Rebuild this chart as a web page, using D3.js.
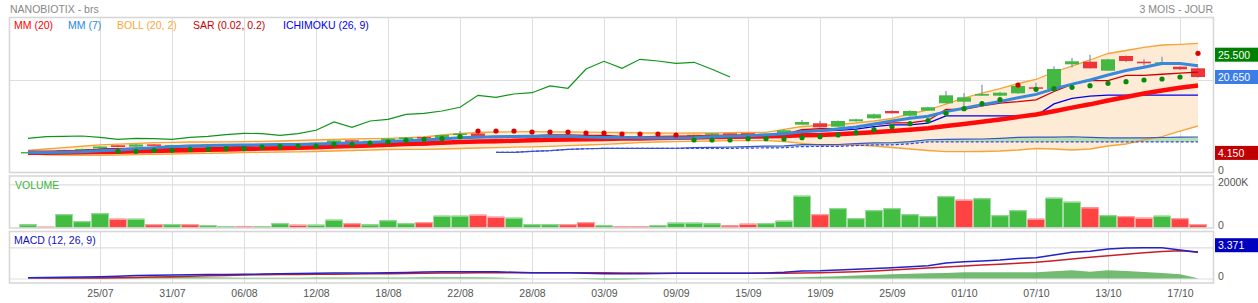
<!DOCTYPE html>
<html><head><meta charset="utf-8">
<script src="https://cdn.jsdelivr.net/npm/d3@7"></script>
<style>
html,body{margin:0;padding:0;background:#fff;}
svg{display:block;font-family:"Liberation Sans",Arial,sans-serif;}
</style></head><body>
<svg id="c" width="1258" height="303"></svg>
<script>
// ---------------- DATA ----------------
const dates = ["21/07","22/07","23/07","24/07","25/07","28/07","29/07","30/07","31/07","01/08","04/08","05/08","06/08","07/08","08/08","11/08","12/08","13/08","14/08","15/08","18/08","19/08","20/08","21/08","22/08","25/08","26/08","27/08","28/08","29/08","01/09","02/09","03/09","04/09","05/09","08/09","09/09","10/09","11/09","12/09","15/09","16/09","17/09","18/09","19/09","22/09","23/09","24/09","25/09","26/09","29/09","30/09","01/10","02/10","03/10","06/10","07/10","08/10","09/10","10/10","13/10","14/10","15/10","16/10","17/10","20/10"];
const open = [4.25,4.35,4.30,4.80,5.10,5.80,5.50,6.00,5.80,5.90, 5.80,5.90,6.00,5.92,6.00,6.25,6.10,6.40,6.90,6.65, 6.80,7.25,7.60,7.30,8.05,8.37,7.70,7.40,7.65,7.75, 7.85,7.55,7.15,7.35,7.28,7.15,7.55,7.75,8.10,8.40, 8.45,8.00,8.26,10.28,10.59,9.85,11.02,11.67,13.26,12.24, 13.33,14.93,15.28,16.59,16.59,17.11,18.41,17.98,23.41,23.98, 22.02,25.22,23.98,23.63,22.89,22.54];
const high = [4.40,4.40,4.85,5.10,5.65,5.95,6.10,6.10,5.95,5.95, 5.98,6.05,6.05,6.08,6.25,6.30,6.40,6.90,6.95,6.85, 7.35,7.60,7.65,8.10,8.90,8.45,7.80,7.75,7.85,7.90, 7.90,7.60,7.40,7.40,7.35,7.60,7.80,8.15,8.50,8.50, 8.50,8.40,9.35,11.30,11.15,11.20,11.60,12.70,13.40,13.40, 14.20,17.60,17.17,18.98,17.40,18.80,19.40,23.00,24.80,25.50, 24.60,25.30,24.50,25.07,23.00,22.70];
const low = [4.15,4.15,4.25,4.75,5.05,5.35,5.45,5.75,5.75,5.75, 5.75,5.85,5.88,5.88,5.98,6.05,6.08,6.35,6.60,6.60, 6.75,7.20,7.20,7.25,8.00,7.80,7.30,7.35,7.60,7.70, 7.50,7.05,7.10,7.20,7.05,7.10,7.50,7.70,8.05,8.30, 7.95,7.95,8.20,10.20,9.60,9.80,10.95,11.60,12.70,12.00, 13.30,14.90,14.20,16.50,16.50,17.00,17.46,17.90,22.70,22.50, 22.00,23.90,23.10,23.60,22.20,20.50];
const close = [4.35,4.24,4.78,5.00,5.54,5.43,5.98,5.80,5.87,5.80, 5.91,5.98,5.91,6.02,6.20,6.13,6.35,6.85,6.67,6.78, 7.28,7.50,7.28,8.04,8.37,7.83,7.33,7.70,7.76,7.83, 7.54,7.11,7.33,7.26,7.11,7.54,7.76,8.11,8.41,8.35, 7.98,8.33,9.07,10.87,9.72,11.09,11.46,12.54,12.76,13.26, 14.07,16.67,16.24,16.96,17.24,18.70,18.20,22.39,24.07,22.54, 24.50,24.13,23.63,23.85,22.33,20.65];
const mm20 = [4.21,4.21,4.24,4.28,4.35,4.41,4.50,4.58,4.66,4.74, 4.83,4.91,5.00,5.09,5.19,5.29,5.39,5.53,5.65,5.78, 5.93,6.09,6.21,6.37,6.51,6.63,6.70,6.79,6.88,6.99, 7.07,7.12,7.20,7.26,7.30,7.37,7.44,7.51,7.59,7.67, 7.71,7.75,7.84,7.98,8.05,8.21,8.42,8.66,8.91,9.18, 9.51,9.98,10.43,10.92,11.42,11.98,12.50,13.22,14.00,14.71, 15.53,16.32,17.05,17.70,18.33,18.81];
const mm7 = [4.22,4.23,4.31,4.42,4.62,4.79,5.05,5.25,5.49,5.63, 5.76,5.82,5.89,5.90,5.96,5.99,6.07,6.21,6.30,6.43, 6.61,6.79,6.96,7.20,7.42,7.58,7.66,7.72,7.76,7.84, 7.77,7.59,7.51,7.50,7.42,7.39,7.38,7.46,7.65,7.79, 7.89,8.07,8.29,8.73,8.96,9.34,9.79,10.44,11.07,11.67, 12.13,13.12,13.86,14.64,15.31,16.16,16.87,18.06,19.11,20.01, 21.09,22.08,22.78,23.59,23.58,23.09];
const bollUp = [4.67,5.00,5.30,5.60,5.90,6.05,6.20,6.37,6.46,6.52, 6.52,6.57,6.59,6.67,6.74,6.85,6.96,7.07,7.17,7.24, 7.33,7.46,7.61,8.04,8.41,8.59,8.70,8.74,8.76,8.74, 8.70,8.65,8.63,8.59,8.52,8.48,8.43,8.48,8.52,8.54, 8.59,8.63,9.28,9.89,10.11,10.33,10.65,11.09,11.63,12.61, 13.48,14.78,16.09,17.17,18.15,19.24,20.11,21.74,23.04,24.35, 25.76,26.41,27.07,27.61,27.76,27.98];
const bollLow = [4.02,3.75,3.65,3.62,3.62,3.70,3.76,3.85,3.91,3.98, 4.07,4.13,4.20,4.28,4.35,4.39,4.46,4.57,4.67,4.78, 4.89,4.93,4.93,5.00,5.11,5.22,5.28,5.39,5.48,5.59, 5.72,5.87,6.02,6.20,6.37,6.52,6.59,6.67,6.74,6.80, 6.80,6.80,6.63,6.24,5.87,5.87,5.87,5.65,5.33,5.00, 4.67,4.41,4.41,4.46,4.57,4.78,5.11,5.00,4.78,5.00, 5.65,6.09,6.96,7.67,8.91,10.00];
const sar = [null,null,null,null,null,4.50,4.50,4.72,4.72,4.93, 4.93,5.07,5.07,5.43,5.50,5.65,5.65,6.02,6.02,6.30, 6.52,6.89,7.11,7.24,7.67,8.91,8.91,8.91,8.70,8.70, 8.70,8.48,8.48,8.26,8.26,8.26,8.04,6.96,6.96,6.96, 7.24,7.24,7.17,7.46,7.67,8.04,8.54,9.20,9.85,10.50, 11.15,12.76,13.76,14.85,15.72,18.91,17.98,18.11,18.41,18.76, 19.28,19.63,20.00,20.22,20.65,25.80];
const tenkan = [4.28,4.28,4.50,4.63,4.90,5.05,5.13,5.13,5.13,5.13, 5.18,5.43,5.58,5.73,5.85,6.03,6.08,6.33,6.35,6.40, 6.62,6.74,6.82,7.08,7.49,7.63,7.75,7.75,7.83,8.05, 8.05,7.98,7.98,7.75,7.48,7.48,7.48,7.60,7.78,7.78, 7.78,7.78,8.20,9.20,9.40,9.50,9.78,10.33,10.68,10.68, 11.20,13.60,13.60,14.39,14.97,15.29,15.70,17.50,19.05,19.85, 19.85,21.00,21.00,21.25,21.48,21.70];
const kijun = [4.28,4.28,4.50,4.63,4.90,5.05,5.13,5.13,5.13,5.13, 5.13,5.13,5.13,5.13,5.20,5.23,5.28,5.53,5.55,5.55, 5.75,5.88,5.90,6.13,6.53,6.53,6.53,6.58,6.83,6.98, 7.13,7.18,7.33,7.33,7.33,7.33,7.38,7.39,7.39,7.44, 7.48,7.49,7.85,8.95,8.95,9.03,9.33,9.88,10.23,10.23, 10.63,12.20,12.20,12.20,12.20,12.20,12.20,14.80,16.00,16.50, 16.70,16.70,16.70,16.70,16.70,16.70];
// senkou spans, starting at bar 26
const senkouStart = 26;
const senkouA = [4.28,4.28,4.50,4.63,4.90,5.05,5.13,5.13,5.13,5.13, 5.16,5.28,5.36,5.43,5.53,5.63,5.68,5.93,5.95,5.98, 6.19,6.31,6.36,6.61,7.01,7.08,7.14,7.17,7.33,7.52, 7.59,7.58,7.66,7.54,7.41,7.41,7.43,7.50,7.59,7.61];
const senkouB = [4.28,4.28,4.50,4.63,4.90,5.05,5.13,5.13,5.13,5.13, 5.13,5.13,5.13,5.13,5.20,5.23,5.28,5.53,5.55,5.55, 5.75,5.88,5.90,6.13,6.53,6.53,6.53,6.53,6.53,6.53, 6.53,6.53,6.53,6.53,6.53,6.53,6.53,6.53,6.53,6.53];
const chikouShift = 26;
const volume = [157,46,631,309,677,415,415,170,170,170, 124,78,62,78,216,138,138,369,216,153, 354,216,262,553,553,599,507,461,170,170, 170,262,124,78,78,124,232,232,201,110, 184,216,323,1475,631,908,447,816,908,631, 539,1461,1290,1369,585,816,415,1382,1198,940, 585,539,461,553,447,170];
const macd = [0.10,0.12,0.15,0.19,0.23,0.30,0.37,0.42,0.45,0.47, 0.50,0.52,0.54,0.57,0.60,0.63,0.67,0.69,0.71,0.72, 0.74,0.78,0.82,0.85,0.87,0.88,0.87,0.80,0.75,0.74, 0.74,0.68,0.60,0.60,0.62,0.64,0.67,0.67,0.68,0.68, 0.67,0.72,0.80,0.95,0.98,1.08,1.18,1.28,1.38,1.50, 1.64,2.00,2.15,2.25,2.37,2.55,2.67,3.00,3.36,3.50, 3.78,3.91,3.95,3.95,3.65,3.37];
const signal = [0.10,0.08,0.06,0.05,0.05,0.09,0.14,0.19,0.23,0.29, 0.35,0.40,0.45,0.48,0.50,0.52,0.54,0.56,0.58,0.60, 0.62,0.64,0.67,0.69,0.71,0.73,0.74,0.75,0.75,0.75, 0.75,0.74,0.74,0.72,0.69,0.68,0.67,0.67,0.67,0.67, 0.67,0.67,0.68,0.70,0.74,0.80,0.87,0.97,1.09,1.22, 1.35,1.48,1.60,1.72,1.84,1.96,2.08,2.28,2.50,2.71, 2.92,3.12,3.31,3.46,3.56,3.40];
const hist = [0.00,0.04,0.09,0.14,0.18,0.21,0.23,0.23,0.22,0.18, 0.15,0.12,0.09,0.09,0.10,0.11,0.13,0.13,0.13,0.12, 0.12,0.14,0.15,0.16,0.16,0.15,0.13,0.05,0.00,-0.01, -0.01,-0.06,-0.14,-0.12,-0.07,-0.04,0.00,0.00,0.01,0.01, 0.00,0.05,0.12,0.15,0.23,0.30,0.38,0.46,0.54,0.60, 0.66,0.72,0.79,0.80,0.80,0.79,0.79,0.92,1.05,0.85, 1.05,0.95,0.82,0.70,0.54,0.03];
const priceMarkers = [25.5, 20.65, 4.15];
const macdMarkers = [3.371];
const title = "NANOBIOTIX - brs";
const period = "3 MOIS - JOUR";
const legendItems = ["MM (20)","MM (7)","BOLL (20, 2)","SAR (0.02, 0.2)","ICHIMOKU (26, 9)"];
const volTicks = [0, 2000];
const macdTicks = [0];
const priceTicks = [0];
const priceGrid = [20];
const macdGrid = [0, 4];

// ---------------- LAYOUT ----------------
const svg = d3.select("#c");
const L = 9.5, R = 1213.5;
const P = {
  main: {top: 17.5, bottom: 172.5},
  vol:  {top: 176,  bottom: 228},
  macd: {top: 231.5, bottom: 283}
};
const n = close.length;
const x = d3.scaleLinear().domain([0, n - 1]).range([28, 1198]);
const yMain = d3.scaleLinear().domain([0, 20]).range([172, 80]);
const yVol = d3.scaleLinear().domain([0, 2000]).range([227.7, 184.3]);
const yMacd = d3.scaleLinear().domain([0, 4]).range([278.5, 247.3]);
const tickIdx = d3.range(n).filter(i => i > 0 && i % 4 === 0);
const FS = "10.5px";
const gridCol = "#dedede";

svg.append("rect").attr("width", 1258).attr("height", 303).attr("fill", "#fff");

const defs = svg.append("defs");
Object.entries(P).forEach(([k, p]) => {
  defs.append("clipPath").attr("id", "clip-" + k).append("rect")
    .attr("x", L).attr("y", p.top).attr("width", R - L).attr("height", p.bottom - p.top);
});

// vertical grid in each panel
Object.entries(P).forEach(([k, p]) => {
  const g = svg.append("g").attr("transform", `translate(0,${p.bottom})`)
    .call(d3.axisBottom(x).tickValues(tickIdx).tickSize(-(p.bottom - p.top)).tickFormat(""));
  g.select(".domain").remove();
  g.selectAll("line").attr("stroke", gridCol).attr("stroke-width", 1);
});
// horizontal grid
function hgrid(scale, vals) {
  const g = svg.append("g").attr("transform", `translate(${L},0)`)
    .call(d3.axisRight(scale).tickValues(vals).tickSize(R - L).tickFormat(""));
  g.select(".domain").remove();
  g.selectAll("line").attr("stroke", gridCol).attr("stroke-width", 1.2);
}
hgrid(yMain, priceGrid);
hgrid(yVol, [2000]);
hgrid(yMacd, macdGrid);

// ---------------- MAIN PANEL ----------------
const gm = svg.append("g").attr("clip-path", "url(#clip-main)");
const idx = d3.range(n);

// Bollinger fill
gm.append("path").datum(idx)
  .attr("d", d3.area().x(i => x(i)).y0(i => yMain(bollLow[i])).y1(i => yMain(bollUp[i])))
  .attr("fill", "#fdebd6");
// Ichimoku cloud
const sIdx = d3.range(senkouA.length);
gm.append("path").datum(sIdx)
  .attr("d", d3.area().x(j => x(j + senkouStart)).y0(j => yMain(senkouB[j])).y1(j => yMain(senkouA[j])))
  .attr("fill", "#a8dea0").attr("opacity", 0.85);
// Bollinger lines
[bollUp, bollLow].forEach(arr => {
  gm.append("path").datum(arr)
    .attr("d", d3.line().x((d, i) => x(i)).y(d => yMain(d)))
    .attr("fill", "none").attr("stroke", "#f5a437").attr("stroke-width", 1.3);
});

// Candles
const cg = gm.append("g");
cg.selectAll("line.wick").data(idx).join("line")
  .attr("x1", i => x(i)).attr("x2", i => x(i))
  .attr("y1", i => yMain(high[i])).attr("y2", i => yMain(low[i]))
  .attr("stroke", "#7e93ae").attr("stroke-width", 1.2);
cg.selectAll("rect.body").data(idx).join("rect")
  .attr("x", i => x(i) - 7).attr("width", 14)
  .attr("y", i => Math.min(yMain(open[i]), yMain(close[i])))
  .attr("height", i => Math.max(1.5, Math.abs(yMain(open[i]) - yMain(close[i]))))
  .attr("fill", i => close[i] >= open[i] ? "#43b943" : "#ee3438");

// Senkou lines
gm.append("path").datum(senkouB)
  .attr("d", d3.line().x((d, j) => x(j + senkouStart)).y(d => yMain(d)))
  .attr("fill", "none").attr("stroke", "#3a3aff").attr("stroke-width", 1.2).attr("stroke-dasharray", "3,2");
gm.append("path").datum(senkouA)
  .attr("d", d3.line().x((d, j) => x(j + senkouStart)).y(d => yMain(d)))
  .attr("fill", "none").attr("stroke", "#3a55c8").attr("stroke-width", 1.2);
// Kijun / Tenkan
gm.append("path").datum(kijun)
  .attr("d", d3.line().x((d, i) => x(i)).y(d => yMain(d)))
  .attr("fill", "none").attr("stroke", "#0000ee").attr("stroke-width", 1.3);
gm.append("path").datum(tenkan)
  .attr("d", d3.line().x((d, i) => x(i)).y(d => yMain(d)))
  .attr("fill", "none").attr("stroke", "#d00000").attr("stroke-width", 1.3);
// Chikou (close shifted back)
gm.append("path").datum(close.slice(chikouShift))
  .attr("d", d3.line().x((d, j) => x(j)).y(d => yMain(d)))
  .attr("fill", "none").attr("stroke", "#10951a").attr("stroke-width", 1.2);
// MM20
gm.append("path").datum(mm20)
  .attr("d", d3.line().x((d, i) => x(i)).y(d => yMain(d)))
  .attr("fill", "none").attr("stroke", "#ff0a0a").attr("stroke-width", 4.5).attr("stroke-linejoin", "round");
// MM7
gm.append("path").datum(mm7)
  .attr("d", d3.line().x((d, i) => x(i)).y(d => yMain(d)))
  .attr("fill", "none").attr("stroke", "#3a88dc").attr("stroke-width", 3).attr("stroke-linejoin", "round");
// SAR
gm.selectAll("circle.sar").data(idx.filter(i => sar[i] != null)).join("circle")
  .attr("cx", i => x(i)).attr("cy", i => yMain(sar[i])).attr("r", 2.6)
  .attr("fill", i => sar[i] > close[i] ? "#dd0000" : "#0a8a0a");

// ---------------- VOLUME ----------------
const gv = svg.append("g").attr("clip-path", "url(#clip-vol)");
const up = i => i === 0 ? close[i] >= open[i] : close[i] >= close[i - 1];
gv.selectAll("rect.v").data(idx).join("rect")
  .attr("x", i => x(i) - 8.5).attr("width", 17)
  .attr("y", i => yVol(volume[i])).attr("height", i => yVol(0) - yVol(volume[i]))
  .attr("fill", i => up(i) ? "#42bd42" : "#ff4242");
gv.selectAll("rect.vt").data(idx).join("rect")
  .attr("x", i => x(i) - 8.5).attr("width", 17)
  .attr("y", i => yVol(volume[i])).attr("height", 1.3)
  .attr("fill", i => up(i) ? "#8fd88f" : "#ff9f9f");

// ---------------- MACD ----------------
const gd = svg.append("g").attr("clip-path", "url(#clip-macd)");
gd.append("path").datum(hist)
  .attr("d", d3.area().x((d, i) => x(i)).y0(yMacd(0)).y1(d => yMacd(d)))
  .attr("fill", "#5aae5a").attr("opacity", 0.85);
gd.append("path").datum(signal)
  .attr("d", d3.line().x((d, i) => x(i)).y(d => yMacd(d)))
  .attr("fill", "none").attr("stroke", "#c81e2a").attr("stroke-width", 1.5);
gd.append("path").datum(macd)
  .attr("d", d3.line().x((d, i) => x(i)).y(d => yMacd(d)))
  .attr("fill", "none").attr("stroke", "#2323c8").attr("stroke-width", 1.5);

// ---------------- FRAMES ----------------
Object.values(P).forEach(p => {
  svg.append("rect").attr("x", L).attr("y", p.top).attr("width", R - L).attr("height", p.bottom - p.top)
    .attr("fill", "none").attr("stroke", "#d7d7d7").attr("stroke-width", 1.6);
});

// ---------------- AXES / TEXT ----------------
function rightAxis(scale, vals, fmt) {
  const g = svg.append("g").attr("transform", `translate(${R},0)`)
    .call(d3.axisRight(scale).tickValues(vals).tickSize(0).tickPadding(4.5).tickFormat(fmt));
  g.select(".domain").remove();
  g.selectAll("text").attr("dy", "0.1em").attr("fill", "#555").style("font-size", FS)
    .style("font-family", '"Liberation Sans",Arial,sans-serif');
}
rightAxis(yMain, priceTicks, d => d);
rightAxis(yVol, volTicks, d => d === 0 ? "0" : d + "K");
rightAxis(yMacd, macdTicks, d => d);

const xa = svg.append("g").attr("transform", `translate(0,${P.macd.bottom})`)
  .call(d3.axisBottom(x).tickValues(tickIdx).tickSize(0).tickPadding(7).tickFormat(i => dates[i]));
xa.select(".domain").remove();
xa.selectAll("text").attr("fill", "#555").style("font-size", FS)
  .style("font-family", '"Liberation Sans",Arial,sans-serif');

// value markers
const mainMarkCol = ["#008000", "#3a7de6", "#c00000"];
priceMarkers.forEach((v, k) => {
  const cy = yMain(v);
  svg.append("rect").attr("x", 1215).attr("y", cy - 7).attr("width", 43).attr("height", 14).attr("fill", mainMarkCol[k]);
  svg.append("text").attr("x", 1218).attr("y", cy + 4).attr("fill", "#fff").style("font-size", FS)
    .text(d3.format(".3f")(v));
});
macdMarkers.forEach(v => {
  const by = yMacd(v);
  svg.append("rect").attr("x", 1215).attr("y", by - 14).attr("width", 43).attr("height", 14).attr("fill", "#0000c0");
  svg.append("text").attr("x", 1218).attr("y", by - 3).attr("fill", "#fff").style("font-size", FS)
    .text(d3.format(".3f")(v));
});

// titles
svg.append("text").attr("x", 10).attr("y", 12.5).attr("fill", "#888").style("font-size", FS).text(title);
svg.append("text").attr("x", 1213).attr("y", 12.5).attr("text-anchor", "end").attr("fill", "#888").style("font-size", FS).text(period);
const legCol = ["#ff0000", "#1e88ee", "#f8a838", "#cc0000", "#0000ee"];
const legX = [14, 68, 117, 193, 283];
legendItems.forEach((t, k) => {
  svg.append("text").attr("x", legX[k]).attr("y", 28.5).attr("fill", legCol[k]).style("font-size", FS).text(t);
});
svg.append("text").attr("x", 15).attr("y", 188.5).attr("fill", "#3bb53b").style("font-size", FS).text("VOLUME");
svg.append("text").attr("x", 14).attr("y", 243.5).attr("fill", "#1010c0").style("font-size", FS).text("MACD (12, 26, 9)");
</script>
</body></html>
